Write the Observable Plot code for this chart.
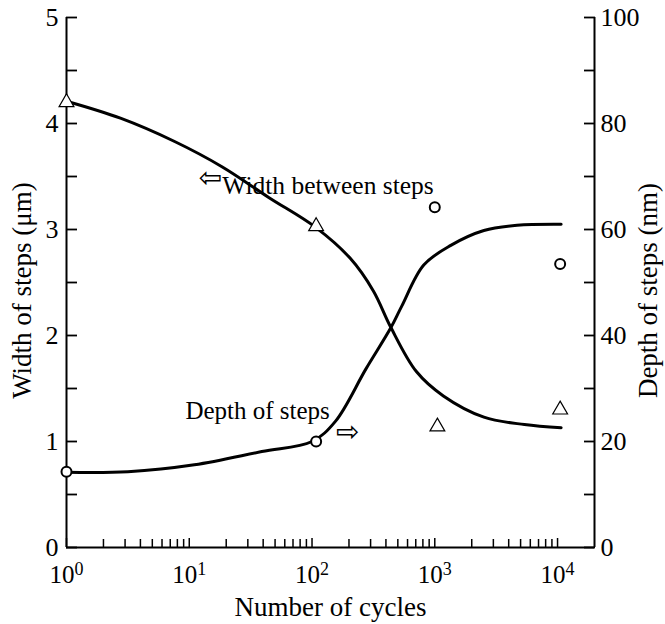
<!DOCTYPE html>
<html><head><meta charset="utf-8">
<script src="https://cdn.jsdelivr.net/npm/d3@7"></script>
<script src="https://cdn.jsdelivr.net/npm/@observablehq/plot@0.6"></script>
<style>body{margin:0;background:#fff}</style>
</head><body><div id="chart"></div>
<script>
// Width between steps (μm, left axis) – smooth curve
const widthCurveX = [1, 2.75, 7.6, 18.6, 44.7, 107, 204, 316, 437, 708, 1175, 2512, 5370, 10700];
const widthCurveY = [4.21, 4.05, 3.83, 3.59, 3.30, 3.02, 2.73, 2.42, 2.08, 1.66, 1.43, 1.23, 1.16, 1.13];
// Depth of steps (nm, right axis) – smooth curve
const depthCurveX = [1, 3.16, 11, 39, 100, 155, 275, 437, 537, 813, 1350, 2512, 4680, 10700];
const depthCurveNm = [14.2, 14.3, 15.6, 18.1, 20, 23.8, 33.7, 41.4, 45.5, 53.3, 57, 59.8, 60.8, 61];
// Measured points
const widthPtsX = [1, 108, 1050, 10500];
const widthPtsY = [4.2, 3.03, 1.14, 1.30];
const depthPtsX = [1, 108, 1000, 10500];
const depthPtsNm = [14.3, 20, 64.2, 53.5];
// Ticks
const xMajorTicks = [1, 10, 100, 1000, 10000];
const xExponents = ["0", "1", "2", "3", "4"];
const xMinorTicks = [];
for (let e = 0; e < 4; e++) for (let m = 2; m <= 9; m++) xMinorTicks.push(m * Math.pow(10, e));
const yLeftTicks = [0, 0.5, 1, 1.5, 2, 2.5, 3, 3.5, 4, 4.5, 5];
const yRightTicksNm = [0, 10, 20, 30, 40, 50, 60, 70, 80, 90, 100];
const nmPerUm = 20; // right axis 0–100 nm spans left axis 0–5 μm

const widthCurve = widthCurveX.map((x, i) => ({x, y: widthCurveY[i]}));
const depthCurve = depthCurveX.map((x, i) => ({x, y: depthCurveNm[i] / nmPerUm}));
const widthPts = widthPtsX.map((x, i) => ({x, y: widthPtsY[i]}));
const depthPts = depthPtsX.map((x, i) => ({x, y: depthPtsNm[i] / nmPerUm}));

const FONT = "Liberation Serif";
const chart = Plot.plot({
  width: 665, height: 624,
  marginLeft: 66, marginRight: 71, marginTop: 17, marginBottom: 77,
  style: "background:#fff;color:#000;",
  x: {type: "log", domain: [1, 20000]},
  y: {domain: [0, 5]},
  marks: [
    Plot.axisX(xMinorTicks, {tickSize: -8, tickFormat: () => "", label: null, strokeWidth: 1.5}),
    Plot.axisX(xMajorTicks, {tickSize: -9, tickPadding: 27, label: null, strokeWidth: 1.5, fontSize: 25,
      tickFormat: d => "10" + xExponents[xMajorTicks.indexOf(d)]}),
    Plot.axisY(yLeftTicks, {anchor: "left", tickSize: -11, tickPadding: 19, label: null, strokeWidth: 1.8, fontSize: 26,
      tickFormat: d => Number.isInteger(d) ? String(d) : ""}),
    Plot.axisY(yRightTicksNm.map(v => v / nmPerUm), {anchor: "right", tickSize: -11, tickPadding: 17, label: null, strokeWidth: 1.8, fontSize: 26,
      tickFormat: d => { const v = Math.round(d * nmPerUm); return v % 20 === 0 ? String(v) : ""; }}),
    Plot.ruleX([1], {strokeWidth: 2}),
    Plot.ruleX([20000], {strokeWidth: 2}),
    Plot.ruleY([0], {strokeWidth: 2}),
    Plot.line(widthCurve, {x: "x", y: "y", curve: "catmull-rom", strokeWidth: 3}),
    Plot.line(depthCurve, {x: "x", y: "y", curve: "catmull-rom", strokeWidth: 3}),
    Plot.dot(widthPts, {x: "x", y: "y", symbol: "triangle", r: 5.5, fill: "white", stroke: "black", strokeWidth: 1.2}),
    Plot.dot(depthPts, {x: "x", y: "y", symbol: "circle", r: 5, fill: "white", stroke: "black", strokeWidth: 2}),
    Plot.text(["Width between steps"], {x: 18.6, y: 3.41, textAnchor: "start", fontSize: 25.5}),
    Plot.text(["Depth of steps"], {x: 9.3, y: 1.29, textAnchor: "start", fontSize: 25}),
    Plot.text(["⇦"], {x: 14.8, y: 3.49, fontSize: 28, fontFamily: "DejaVu Sans"}),
    Plot.text(["⇨"], {x: 195, y: 1.09, fontSize: 28, fontFamily: "DejaVu Sans"}),
    Plot.text(["Width of steps (μm)"], {frameAnchor: "left", textAnchor: "middle", lineAnchor: "middle", rotate: -90, dx: -44, dy: 8, fontSize: 27}),
    Plot.text(["Depth of steps (nm)"], {frameAnchor: "right", textAnchor: "middle", lineAnchor: "middle", rotate: -90, dx: 54, dy: 8, fontSize: 27}),
    Plot.text(["Number of cycles"], {frameAnchor: "bottom", dy: 68, fontSize: 27})
  ]
});
document.getElementById("chart").append(chart);
// serif font everywhere except the arrow glyphs
chart.setAttribute("font-family", FONT);
chart.querySelectorAll("text").forEach(el => {
  const isArrow = el.textContent === "⇦" || el.textContent === "⇨";
  el.setAttribute("font-family", isArrow ? "DejaVu Sans" : FONT);
});
// superscript exponents on x tick labels
chart.querySelectorAll('g[aria-label="x-axis tick label"] text').forEach(el => {
  const t = el.textContent;
  if (t.startsWith("10") && t.length > 2) {
    const exp = t.slice(2);
    el.textContent = "10";
    const ts = document.createElementNS("http://www.w3.org/2000/svg", "tspan");
    ts.setAttribute("dy", "-0.45em");
    ts.setAttribute("font-size", "0.72em");
    ts.textContent = exp;
    el.appendChild(ts);
  }
});
</script>
</body></html>
